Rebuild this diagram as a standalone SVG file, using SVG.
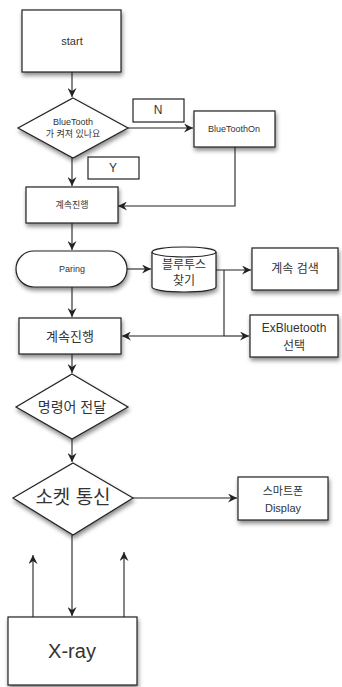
<svg xmlns="http://www.w3.org/2000/svg" width="342" height="687" viewBox="0 0 342 687">
<style>
.s{fill:#fff;stroke:#222;stroke-width:1.2}
.c{fill:none;stroke:#222;stroke-width:1.1}
text{font-family:"Liberation Sans","Noto Sans CJK KR",sans-serif;fill:#333;text-anchor:middle;dominant-baseline:central}
</style>
<defs>
<filter id="sh" x="-20%" y="-20%" width="150%" height="160%">
<feDropShadow dx="1" dy="3" stdDeviation="2" flood-color="#000" flood-opacity="0.45"/>
</filter>
<marker id="a" markerUnits="userSpaceOnUse" markerWidth="10" markerHeight="9" refX="9" refY="4.5" orient="auto">
<path d="M0,0 L9,4.5 L0,9 L3,4.5 Z" fill="#222"/>
</marker>
</defs>
<rect width="342" height="687" fill="#fff"/>
<g id="start"><rect class="s" x="22" y="10" width="99" height="62" filter="url(#sh)"/><text x="72" y="41" font-size="11">start</text></g>
<g id="d1"><path class="s" d="M73,98 L128,128 L73,158 L18,128 Z" filter="url(#sh)"/><text x="73" y="122" font-size="9">BlueTooth</text><text x="73" y="134" font-size="9">가 켜져 있나요</text></g>
<g id="lblN"><rect class="s" x="133" y="99" width="51" height="23"/><text x="158" y="110" font-size="12">N</text></g>
<g id="lblY"><rect class="s" x="88" y="157" width="51" height="22"/><text x="113" y="168" font-size="12">Y</text></g>
<g id="btOn"><rect class="s" x="194" y="111" width="81" height="36" filter="url(#sh)"/><text x="234" y="129" font-size="9">BlueToothOn</text></g>
<g id="go1"><rect class="s" x="26" y="187" width="92" height="36" filter="url(#sh)"/><text x="72" y="205" font-size="9">계속진행</text></g>
<g id="paring"><rect class="s" x="16" y="251" width="111" height="36" rx="18" ry="18" filter="url(#sh)"/><text x="72" y="269" font-size="9">Paring</text></g>
<g id="find"><path class="s" d="M152,252 V287 A32,5 0 0 0 216,287 V252 A32,5 0 0 0 152,252 Z" filter="url(#sh)"/><path class="c" d="M152,252 A32,5 0 0 0 216,252"/><text x="184" y="265" font-size="12">블루투스</text><text x="184" y="281" font-size="12">찾기</text></g>
<g id="search"><rect class="s" x="252" y="248" width="86" height="42" filter="url(#sh)"/><text x="295" y="269" font-size="12">계속 검색</text></g>
<g id="exbt"><rect class="s" x="250" y="315" width="88" height="42" filter="url(#sh)"/><text x="294" y="328" font-size="12">ExBluetooth</text><text x="294" y="346" font-size="12">선택</text></g>
<g id="go2"><rect class="s" x="19" y="318" width="102" height="36" filter="url(#sh)"/><text x="70" y="336" font-size="13">계속진행</text></g>
<g id="d2"><path class="s" d="M72,374 L128,407 L72,439 L16,407 Z" filter="url(#sh)"/><text x="72" y="407" font-size="14">명령어 전달</text></g>
<g id="d3"><path class="s" d="M73,463 L133,498 L73,535 L13,498 Z" filter="url(#sh)"/><text x="73" y="497" font-size="19">소켓 통신</text></g>
<g id="phone"><rect class="s" x="238" y="477" width="90" height="43" filter="url(#sh)"/><text x="283" y="491" font-size="11">스마트폰</text><text x="283" y="508" font-size="11">Display</text></g>
<g id="xray"><rect class="s" x="8" y="617" width="129" height="68" filter="url(#sh)"/><text x="72" y="651" font-size="20">X-ray</text></g>
<g id="connectors">
<path class="c" d="M72,72 V97" marker-end="url(#a)"/>
<path class="c" d="M128,128 H193" marker-end="url(#a)"/>
<path class="c" d="M72,158 V186" marker-end="url(#a)"/>
<path class="c" d="M235,147 V206 H118" marker-end="url(#a)"/>
<path class="c" d="M72,223 V250" marker-end="url(#a)"/>
<path class="c" d="M127,269 H151" marker-end="url(#a)"/>
<path class="c" d="M216,270 H251" marker-end="url(#a)"/>
<path class="c" d="M224,270 V336"/>
<path class="c" d="M224,336 H249" marker-end="url(#a)"/>
<path class="c" d="M224,336 H122" marker-end="url(#a)"/>
<path class="c" d="M72,287 V317" marker-end="url(#a)"/>
<path class="c" d="M72,354 V373" marker-end="url(#a)"/>
<path class="c" d="M72,439 V462" marker-end="url(#a)"/>
<path class="c" d="M133,498 H237" marker-end="url(#a)"/>
<path class="c" d="M72,535 V616" marker-end="url(#a)"/>
<path class="c" d="M33,617 V555" marker-end="url(#a)"/>
<path class="c" d="M124,617 V552" marker-end="url(#a)"/>
</g>
</svg>
